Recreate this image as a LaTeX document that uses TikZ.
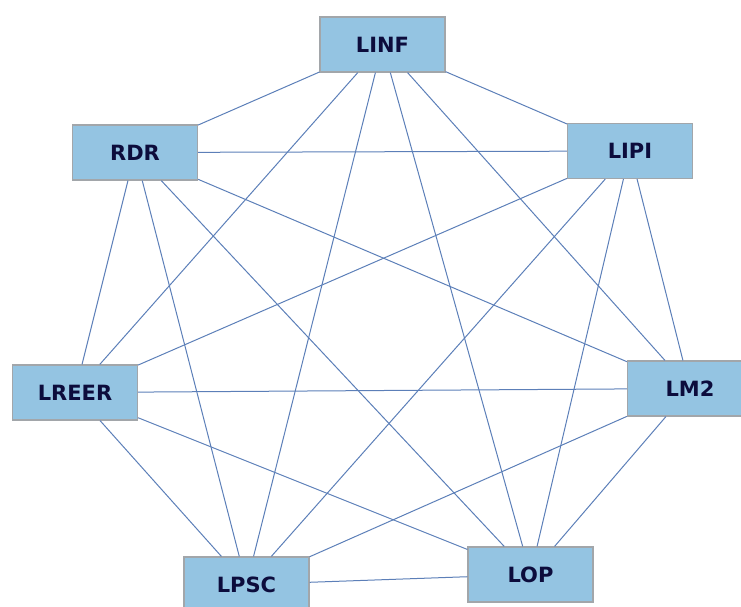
\documentclass[tikz,border=0pt]{standalone}
\usepackage{fontspec}
\setsansfont{DejaVu Sans}
\definecolor{labfill}{HTML}{94C4E2}
\definecolor{labline}{HTML}{A2A6AA}
\definecolor{linkcol}{HTML}{5C7FB8}
\definecolor{labtext}{HTML}{0C0C3C}
\tikzset{
  lab/.style={draw=labline, line width=1.2pt, fill=labfill, text=labtext,
    minimum width=125pt, minimum height=55pt, inner sep=0pt,
    font=\sffamily\bfseries\fontsize{21}{24}\selectfont},
  link/.style={draw=linkcol, line width=1pt}
}
\begin{document}
\begin{tikzpicture}[x=1pt, y=-1pt]
   \useasboundingbox (0,0) rectangle (741,606);
   % links first, boxes on top
   \coordinate (cLINF) at (382.5,44.5);
   \coordinate (cRDR) at (135,152.5);
   \coordinate (cLIPI) at (630,151);
   \coordinate (cLREER) at (75,392.5);
   \coordinate (cLM2) at (690,388.5);
   \coordinate (cLPSC) at (246.5,584.5);
   \coordinate (cLOP) at (530.5,574.5);
   \begin{scope}
      \clip (0,0) rectangle (741,606);
      \node[lab] (LINF) at (cLINF) {LINF};
      \node[lab] (RDR) at (cRDR) {RDR};
      \node[lab] (LIPI) at (cLIPI) {LIPI};
      \node[lab] (LREER) at (cLREER) {LREER};
      \node[lab] (LM2) at (cLM2) {LM2};
      \node[lab] (LPSC) at (cLPSC) {LPSC};
      \node[lab] (LOP) at (cLOP) {LOP};
      \draw[link] (LINF) -- (RDR);
      \draw[link] (LINF) -- (LIPI);
      \draw[link] (LINF) -- (LREER);
      \draw[link] (LINF) -- (LM2);
      \draw[link] (LINF) -- (LPSC);
      \draw[link] (LINF) -- (LOP);
      \draw[link] (RDR) -- (LIPI);
      \draw[link] (RDR) -- (LREER);
      \draw[link] (RDR) -- (LM2);
      \draw[link] (RDR) -- (LPSC);
      \draw[link] (RDR) -- (LOP);
      \draw[link] (LIPI) -- (LREER);
      \draw[link] (LIPI) -- (LM2);
      \draw[link] (LIPI) -- (LPSC);
      \draw[link] (LIPI) -- (LOP);
      \draw[link] (LREER) -- (LM2);
      \draw[link] (LREER) -- (LPSC);
      \draw[link] (LREER) -- (LOP);
      \draw[link] (LM2) -- (LPSC);
      \draw[link] (LM2) -- (LOP);
      \draw[link] (LPSC) -- (LOP);
   \end{scope}
\end{tikzpicture}
\end{document}
